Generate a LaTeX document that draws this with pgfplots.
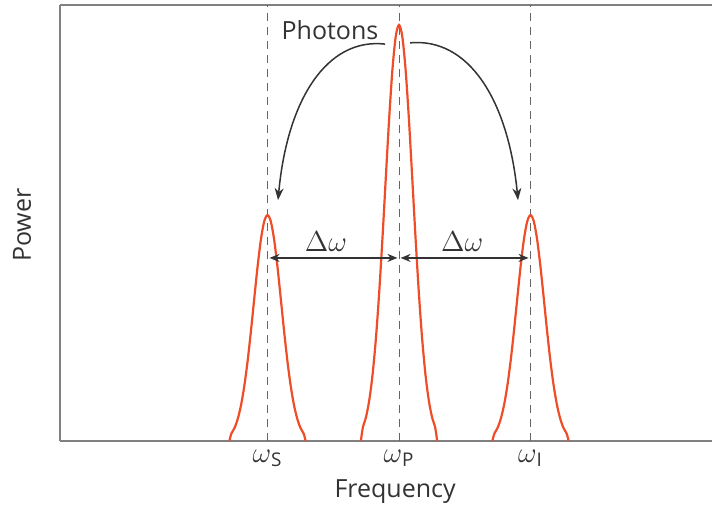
\documentclass[border=0pt]{standalone}
\usepackage{pgfplots}
\pgfplotsset{compat=1.18}
\usepackage{fontspec}
\setmainfont{Open Sans}
\usetikzlibrary{arrows.meta}
\definecolor{peakred}{RGB}{238,77,40}
\definecolor{txt}{RGB}{51,51,51}
\definecolor{spine}{RGB}{128,128,128}
\definecolor{guide}{RGB}{100,100,100}
\begin{document}
\fontsize{12.5}{15}\selectfont
\begin{tikzpicture}
\useasboundingbox (-30pt,-32.5pt) rectangle (326pt,220.5pt);
\begin{axis}[
  at={(0,0)}, anchor=south west,
  width=326pt, height=218pt, scale only axis,
  xmin=-2.578, xmax=2.380, ymin=0, ymax=1.048,
  axis x line*=box, axis y line*=left,
  axis line style={spine, line width=0.8pt},
  xtick={-1,0,1},
  xticklabels={$\omega$\textsubscript{S},$\omega$\textsubscript{P},$\omega$\textsubscript{I}},
  ytick=\empty,
  major tick length=0pt,
  tick label style={txt, font=\fontsize{13.5}{15}\selectfont},
  xlabel={Frequency}, ylabel={Power},
  xlabel style={txt, at={(axis description cs:0.514,-0.117)}, anchor=center},
  ylabel style={txt, at={(axis description cs:-0.0583,0.495)}, anchor=center, rotate=0},
  clip=false,
]
% dashed guides
\addplot[guide, dash pattern=on 4pt off 3pt, line width=0.5pt] coordinates {(-1,0) (-1,1.048)};
\addplot[guide, dash pattern=on 4pt off 3pt, line width=0.5pt] coordinates {(0,0) (0,1.048)};
\addplot[guide, dash pattern=on 4pt off 3pt, line width=0.5pt] coordinates {(1,0) (1,1.048)};
% signal peak
\addplot[peakred, line width=1.1pt, smooth] coordinates {
(-1.290,0.0000) (-1.275,0.0176) (-1.250,0.0319) (-1.225,0.0547) (-1.200,0.0885) (-1.175,0.1354)
(-1.150,0.1957) (-1.125,0.2673) (-1.100,0.3450) (-1.075,0.4207) (-1.050,0.4848) (-1.025,0.5279)
(-1.000,0.5430)
(-0.975,0.5279) (-0.950,0.4848) (-0.925,0.4207) (-0.900,0.3450) (-0.875,0.2673) (-0.850,0.1957)
(-0.825,0.1354) (-0.800,0.0885) (-0.775,0.0547) (-0.750,0.0319) (-0.725,0.0176) (-0.710,0.0000)
};
% pump peak
\addplot[peakred, line width=1.1pt, smooth] coordinates {
(-0.290,0.0000) (-0.275,0.0324) (-0.250,0.0587) (-0.225,0.1007) (-0.200,0.1630) (-0.175,0.2494)
(-0.150,0.3604) (-0.125,0.4923) (-0.100,0.6354) (-0.075,0.7748) (-0.050,0.8928) (-0.025,0.9721)
(0.000,1.0000)
(0.025,0.9721) (0.050,0.8928) (0.075,0.7748) (0.100,0.6354) (0.125,0.4923) (0.150,0.3604)
(0.175,0.2494) (0.200,0.1630) (0.225,0.1007) (0.250,0.0587) (0.275,0.0324) (0.290,0.0000)
};
% idler peak
\addplot[peakred, line width=1.1pt, smooth] coordinates {
(0.710,0.0000) (0.725,0.0176) (0.750,0.0319) (0.775,0.0547) (0.800,0.0885) (0.825,0.1354)
(0.850,0.1957) (0.875,0.2673) (0.900,0.3450) (0.925,0.4207) (0.950,0.4848) (0.975,0.5279)
(1.000,0.5430)
(1.025,0.5279) (1.050,0.4848) (1.075,0.4207) (1.100,0.3450) (1.125,0.2673) (1.150,0.1957)
(1.175,0.1354) (1.200,0.0885) (1.225,0.0547) (1.250,0.0319) (1.275,0.0176) (1.290,0.0000)
};
% annotations
\node[txt, anchor=center] at (axis cs:-0.525,0.988) {Photons};
\draw[txt, line width=0.75pt, -{Stealth[length=6pt,width=4.5pt]}]
  (axis cs:-0.106,0.954) .. controls (axis cs:-0.55,0.97) and (axis cs:-0.85,0.82) .. (axis cs:-0.92,0.579);
\draw[txt, line width=0.75pt, -{Stealth[length=6pt,width=4.5pt]}]
  (axis cs:0.084,0.957) .. controls (axis cs:0.53,0.97) and (axis cs:0.83,0.82) .. (axis cs:0.905,0.579);
\draw[txt, line width=0.75pt, {Stealth[length=5pt,width=4pt]}-{Stealth[length=5pt,width=4pt]}]
  (axis cs:-0.985,0.44) -- (axis cs:-0.012,0.44);
\draw[txt, line width=0.75pt, {Stealth[length=5pt,width=4pt]}-{Stealth[length=5pt,width=4pt]}]
  (axis cs:0.012,0.44) -- (axis cs:0.985,0.44);
\node[txt, font=\fontsize{15}{17}\selectfont] at (axis cs:-0.555,0.478) {$\Delta\omega$};
\node[txt, font=\fontsize{15}{17}\selectfont] at (axis cs:0.48,0.478) {$\Delta\omega$};
\end{axis}
\end{tikzpicture}
\end{document}
